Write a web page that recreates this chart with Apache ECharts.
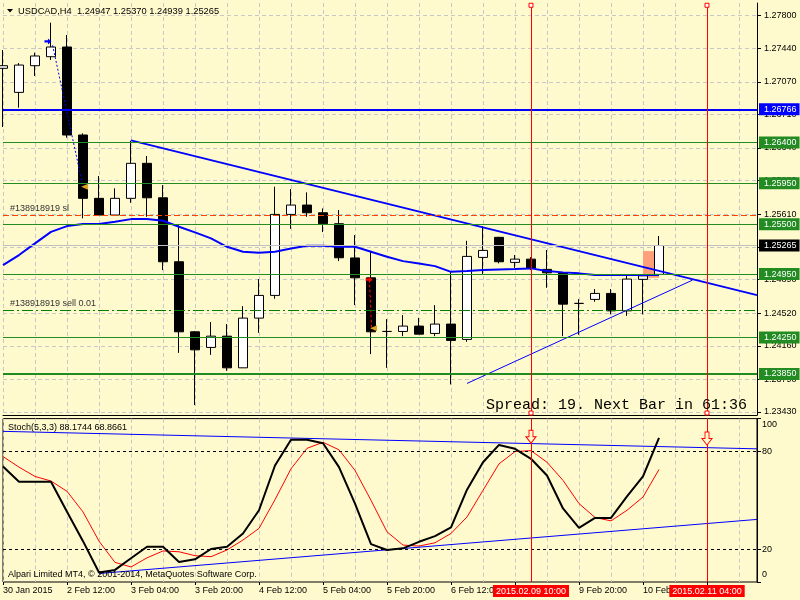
<!DOCTYPE html>
<html>
<head>
<meta charset="utf-8">
<script src="https://cdn.jsdelivr.net/npm/echarts@6/dist/echarts.min.js"></script>
<style>
html,body{margin:0;padding:0;background:#FFFACD;}
#c{width:800px;height:600px;}
</style>
</head>
<body>
<div id="c"></div>
<script>
// ---------------- DATA ----------------
const symbolName = 'USDCAD,H4';
const opens  = [1.27218,1.26953,1.27247,1.27346,1.27453,1.26483,1.25785,1.25601,1.25785,1.26171,1.25791,1.25086,1.24314,1.24142,1.24266,1.23917,1.24465,1.24715,1.25608,1.25711,1.25626,1.25505,1.25128,1.24909,1.24318,1.24318,1.24377,1.24296,1.24399,1.24230,1.25134,1.25355,1.25079,1.25115,1.25002,1.24964,1.24627,1.24671,1.24737,1.24545,1.24892,1.24947];
const highs  = [1.27420,1.27276,1.27390,1.27721,1.27585,1.26501,1.26031,1.25895,1.26420,1.26251,1.25931,1.25490,1.24322,1.24421,1.24399,1.24597,1.24895,1.25913,1.25887,1.25851,1.25674,1.25656,1.25380,1.25196,1.24454,1.24498,1.24468,1.24608,1.24972,1.25317,1.25479,1.25361,1.25160,1.25137,1.25215,1.24972,1.24674,1.24785,1.24785,1.24931,1.24931,1.25370];
const lows   = [1.26571,1.26784,1.27133,1.27310,1.26453,1.25564,1.25601,1.25601,1.25736,1.25582,1.24994,1.24082,1.23506,1.24060,1.23884,1.23917,1.24303,1.24678,1.25449,1.25582,1.25413,1.25093,1.24608,1.24068,1.23917,1.24266,1.24288,1.24266,1.23734,1.24204,1.24950,1.25068,1.25019,1.24994,1.24799,1.24266,1.24281,1.24645,1.24506,1.24490,1.24506,1.24939];
const closes = [1.27247,1.27254,1.27354,1.27453,1.26483,1.25785,1.25601,1.25785,1.26171,1.25791,1.25086,1.24314,1.24115,1.24266,1.23917,1.24465,1.24715,1.25608,1.25711,1.25626,1.25505,1.25130,1.24909,1.24314,1.24318,1.24377,1.24288,1.24399,1.24219,1.25145,1.25211,1.25086,1.25115,1.25013,1.24964,1.24619,1.24627,1.24737,1.24545,1.24895,1.24931,1.25265];
const maValues = [1.25049,1.25160,1.25289,1.25416,1.25479,1.25501,1.25501,1.25527,1.25556,1.25556,1.25538,1.25472,1.25410,1.25344,1.25251,1.25196,1.25185,1.25196,1.25233,1.25262,1.25262,1.25251,1.25251,1.25196,1.25141,1.25093,1.25068,1.25038,1.24975,1.24983,1.24994,1.25002,1.25005,1.25013,1.24983,1.24969,1.24958,1.24939,1.24939,1.24939,1.24939,1.24939];
const stochK = [70.7,61.4,61.4,61.4,43,25,5.8,7.4,14.5,21.6,21.6,12.3,13.9,20.2,21.6,29.7,43.9,71.3,87,87,84.9,70.3,48,23.2,19.6,20.6,24.6,28.1,33.4,56.5,73.3,83.9,81.5,75.4,65.2,45,33.1,39.2,39.2,52.4,64.6,88.17];
const stochD = [76.8,70.3,64.6,61.8,55.5,42.9,25,12,9.2,14.8,19,18.5,16.1,15.5,19.6,25.7,32.8,50.4,69.3,81.8,85.5,80.9,68.3,50,30.7,22.6,22,24,29.7,39.8,56.1,72.3,79.8,80.4,73.3,62.2,48,39.5,37.4,43.9,52,68.87];

const blueLevels = [1.26766];
const greenLevels = [1.26400, 1.25950, 1.25500, 1.24950, 1.24250];
const strongLevels = [1.23850];
const bidPrice = 1.25265;
const slPrice = 1.25601;
const orderPrice = 1.24553;
const slLabel = '#138918919 sl';
const orderLabel = '#138918919 sell 0.01';

const mainTrend = [[8, 1.26424], [47.125, 1.24718]];
const supportTrend = [[29, 1.23745], [43.1, 1.24884]];
const stochUpper = [[0, 92.2], [47.125, 81.5]];
const stochLower = [[6, 5.2], [47.125, 38.3]];

const tradePathA = [[3.1, 1.27472], [5.0, 1.25912]];
const tradePathB = [[22.9, 1.24889], [23.04, 1.24352]];
const tradeOpenA = [[2.81, 1.27515]];
const tradeOpenB = [[22.88, 1.24889]];
const tradeCloses = [[5.1, 1.25912], [23.16, 1.24352]];
const highlightBox = [40, 1.25204, 41, 1.24909];

const markerBars = [33, 44];
const markerLabels = ['2015.02.09 10:00', '2015.02.11 04:00'];
const handlePoints = [[33, 1.27913], [33, 1.23419], [44, 1.27913], [44, 1.23419]];
const alertArrows = [[33, 88.9], [44, 87.8]];

const timeTickBars = [0,4,8,12,16,20,24,28,32,36,40,44];
const timeLabelBars = [0,4,8,12,16,20,24,28,36,40];
const timeTickLabels = ['30 Jan 2015','2 Feb 12:00','3 Feb 04:00','3 Feb 20:00','4 Feb 12:00','5 Feb 04:00','5 Feb 20:00','6 Feb 12:00','9 Feb 04:00','9 Feb 20:00','10 Feb 12:00','11 Feb 04:00'];
const priceTicks = [1.2343,1.2379,1.2416,1.2452,1.2489,1.2525,1.2561,1.2598,1.2634,1.2671,1.2707,1.2744,1.2780];
const stochTicks = [0, 20, 80, 100];
const stochLevels = [80, 20];

const priceMin = 1.23397, priceMax = 1.27938;
const barMax = 47.125;

// ---------------- CHART ----------------
const FONT = 'Liberation Sans';
const GRID_COLOR = '#c8c8c8';
const GREEN = '#228b22';
const ARROW_R = 'path://M0,3L5,3L5,0L10,5L5,10L5,7L0,7Z';
const ARROW_D = 'path://M3,0L7,0L7,6L10,6L5,12L0,6L3,6Z';

const candleData = opens.map((o, i) => [i, o, closes[i], lows[i], highs[i]]);
const indexed = arr => arr.map((v, i) => [i, v]);

function boxLabel(bg) {
  return {show: true, position: 'end', distance: 2, formatter: p => Number(p.value).toFixed(5),
    color: '#fff', backgroundColor: bg, padding: [2, 3, 1, 5], fontSize: 9, lineHeight: 9, fontFamily: FONT};
}
function textLabel(txt) {
  return {show: true, position: 'insideStartTop', distance: [7, 2], formatter: txt,
    color: '#333', fontSize: 9, fontFamily: FONT};
}
const redV = b => ({xAxis: b, lineStyle: {color: '#ff0000', width: 1, type: 'solid'}, label: {show: false}});

const mainLines = [].concat(
  blueLevels.map(v => ({yAxis: v, lineStyle: {color: '#0000ff', width: 2, type: 'solid'}, label: boxLabel('#0000ff')})),
  greenLevels.map(v => ({yAxis: v, lineStyle: {color: GREEN, width: 1, type: 'solid'}, label: boxLabel(GREEN)})),
  strongLevels.map(v => ({yAxis: v, lineStyle: {color: GREEN, width: 2, type: 'solid'}, label: boxLabel(GREEN)})),
  [{yAxis: bidPrice, lineStyle: {color: '#c0c0c0', width: 1, type: 'solid'}, label: boxLabel('#000000')}],
  [{yAxis: slPrice, lineStyle: {color: '#ff4500', width: 1, type: [6, 3]}, label: textLabel(slLabel)}],
  [{yAxis: orderPrice, lineStyle: {color: '#008000', width: 1, type: [11, 3, 2, 3]}, label: textLabel(orderLabel)}],
  markerBars.map(redV)
);

const stochLines = [].concat(
  stochLevels.map(v => ({yAxis: v, lineStyle: {color: '#000', width: 1, type: [3, 3]}, label: {show: false}})),
  markerBars.map(redV)
);

const axisFont = {fontSize: 9, color: '#000', fontFamily: FONT};

const option = {
  backgroundColor: '#FFFACD',
  animation: false,
  textStyle: {fontFamily: FONT},
  grid: [
    {left: 3, top: 3, width: 754, height: 412, show: false},
    {left: 3, top: 418.6, width: 754, height: 163.4, show: true, borderColor: '#000', borderWidth: 1, backgroundColor: 'transparent'}
  ],
  xAxis: [
    {gridIndex: 0, type: 'value', position: 'bottom', min: 0, max: barMax, interval: 2,
     axisLine: {show: true, onZero: false, lineStyle: {color: '#000'}}, axisTick: {show: false}, axisLabel: {show: false},
     splitLine: {show: true, lineStyle: {color: GRID_COLOR, type: [4, 3]}}},
    {gridIndex: 1, type: 'value', position: 'bottom', min: 0, max: barMax, interval: 2,
     axisLine: {show: false, onZero: false}, axisTick: {show: false}, axisLabel: {show: false},
     splitLine: {show: true, lineStyle: {color: GRID_COLOR, type: [4, 3]}}},
    {gridIndex: 1, type: 'value', position: 'bottom', min: 0, max: barMax,
     axisLine: {show: false, onZero: false},
     axisTick: {show: true, customValues: timeTickBars, length: 3, lineStyle: {color: '#000'}},
     axisLabel: Object.assign({show: true, customValues: timeLabelBars, align: 'left', margin: 4,
       formatter: v => timeTickLabels[timeTickBars.indexOf(v)]}, axisFont),
     splitLine: {show: false}},
    {gridIndex: 1, type: 'value', position: 'bottom', min: 0, max: barMax,
     axisLine: {show: false, onZero: false}, axisTick: {show: false},
     axisLabel: {show: true, customValues: markerBars, align: 'center', margin: 3,
       formatter: v => markerLabels[markerBars.indexOf(v)],
       fontSize: 9, fontFamily: FONT, color: '#fff', backgroundColor: '#ff0000', padding: [2, 3, 1, 3], lineHeight: 9},
     splitLine: {show: false}}
  ],
  yAxis: [
    {gridIndex: 0, type: 'value', position: 'right', min: priceMin, max: priceMax,
     axisLine: {show: true, onZero: false, lineStyle: {color: '#000'}},
     axisTick: {show: true, customValues: priceTicks, length: 4, lineStyle: {color: '#000'}},
     axisLabel: Object.assign({show: true, customValues: priceTicks, margin: 7, formatter: v => v.toFixed(5)}, axisFont),
     splitLine: {show: true, lineStyle: {color: GRID_COLOR, type: [4, 3]}}},
    {gridIndex: 1, type: 'value', position: 'right', min: 0, max: 100,
     axisLine: {show: true, onZero: false, lineStyle: {color: '#000'}},
     axisTick: {show: true, customValues: stochTicks, length: 4, lineStyle: {color: '#000'}},
     axisLabel: Object.assign({show: true, customValues: stochTicks, margin: 5,
       formatter: v => v === 100 ? '{t|100}' : (v === 0 ? '{b|0}' : String(v)),
       rich: {t: {padding: [11, 0, 0, 0], fontSize: 9, fontFamily: FONT}, b: {padding: [0, 0, 14, 0], fontSize: 9, fontFamily: FONT}}}, axisFont),
     splitLine: {show: false}}
  ],
  series: [
    {name: 'candles', type: 'candlestick', xAxisIndex: 0, yAxisIndex: 0, data: candleData,
     encode: {x: 0, y: [1, 2, 3, 4]}, barWidth: 10, z: 2,
     itemStyle: {color: '#ffffff', color0: '#000000', borderColor: '#000000', borderColor0: '#000000', borderWidth: 1},
     markArea: {silent: true, itemStyle: {color: '#FFA07A'},
       data: [[{xAxis: highlightBox[0], yAxis: highlightBox[1]}, {xAxis: highlightBox[2], yAxis: highlightBox[3]}]]}},
    {name: 'MA', type: 'line', xAxisIndex: 0, yAxisIndex: 0, data: indexed(maValues), symbol: 'none',
     lineStyle: {color: '#0000ff', width: 2}, z: 3,
     markLine: {silent: true, precision: 5, symbol: ['none', 'none'], animation: false, data: mainLines}},
    {name: 'trend', type: 'line', xAxisIndex: 0, yAxisIndex: 0, data: mainTrend, symbol: 'none',
     lineStyle: {color: '#0000ff', width: 2}, z: 4},
    {name: 'support', type: 'line', xAxisIndex: 0, yAxisIndex: 0, data: supportTrend, symbol: 'none',
     lineStyle: {color: '#0000ff', width: 1}, z: 4},
    {name: 'tradeA', type: 'line', xAxisIndex: 0, yAxisIndex: 0, data: tradePathA, symbol: 'none',
     lineStyle: {color: '#0000ff', width: 1, type: [2, 2]}, z: 4},
    {name: 'tradeB', type: 'line', xAxisIndex: 0, yAxisIndex: 0, data: tradePathB, symbol: 'none',
     lineStyle: {color: '#ff0000', width: 1, type: [3, 2]}, z: 4},
    {name: 'openA', type: 'scatter', xAxisIndex: 0, yAxisIndex: 0, data: tradeOpenA, symbol: ARROW_R,
     symbolSize: [7, 6], itemStyle: {color: '#0000ff', opacity: 1}, z: 5},
    {name: 'openB', type: 'scatter', xAxisIndex: 0, yAxisIndex: 0, data: tradeOpenB, symbol: ARROW_R,
     symbolSize: [7, 6], itemStyle: {color: '#ff0000', opacity: 1}, z: 5},
    {name: 'closes', type: 'scatter', xAxisIndex: 0, yAxisIndex: 0, data: tradeCloses, symbol: 'triangle',
     symbolRotate: 90, symbolSize: [6, 7], itemStyle: {color: '#daa520', opacity: 1}, z: 5},
    {name: 'handles', type: 'scatter', xAxisIndex: 0, yAxisIndex: 0, data: handlePoints, symbol: 'rect',
     symbolSize: 4, itemStyle: {color: '#ffffff', borderColor: '#ff0000', borderWidth: 1, opacity: 1}, z: 6},
    {name: '%K', type: 'line', xAxisIndex: 1, yAxisIndex: 1, data: indexed(stochK), symbol: 'none',
     lineStyle: {color: '#000000', width: 2}, z: 4,
     markLine: {silent: true, precision: 2, symbol: ['none', 'none'], animation: false, data: stochLines}},
    {name: '%D', type: 'line', xAxisIndex: 1, yAxisIndex: 1, data: indexed(stochD), symbol: 'none',
     lineStyle: {color: '#ff0000', width: 1}, z: 3},
    {name: 'stochUpper', type: 'line', xAxisIndex: 1, yAxisIndex: 1, data: stochUpper, symbol: 'none',
     lineStyle: {color: '#0000ff', width: 1}, z: 3},
    {name: 'stochLower', type: 'line', xAxisIndex: 1, yAxisIndex: 1, data: stochLower, symbol: 'none',
     lineStyle: {color: '#0000ff', width: 1}, z: 3},
    {name: 'alerts', type: 'scatter', xAxisIndex: 1, yAxisIndex: 1, data: alertArrows, symbol: ARROW_D,
     symbolSize: [10, 13], itemStyle: {color: '#FFFACD', borderColor: '#ff0000', borderWidth: 1, opacity: 1}, z: 6}
  ],
  graphic: [
    {type: 'polygon', shape: {points: [[7, 9], [13, 9], [10, 12.5]]}, style: {fill: '#000'}, z: 10},
    {type: 'text', x: 18, y: 11, z: 10, style: {
      text: symbolName + '  ' + [opens, highs, lows, closes].map(a => a[a.length - 1].toFixed(5)).join(' '),
      font: '9.3px "Liberation Sans"', fill: '#000', verticalAlign: 'middle'}},
    {type: 'text', x: 8, y: 427.5, z: 10, style: {text: 'Stoch(5,3,3) 88.1744 68.8661',
      font: '9px "Liberation Sans"', fill: '#000', verticalAlign: 'middle'}},
    {type: 'text', x: 8, y: 574.5, z: 10, style: {text: 'Alpari Limited MT4, \u00a9 2001-2014, MetaQuotes Software Corp.',
      font: '9px "Liberation Sans"', fill: '#000', verticalAlign: 'middle'}},
    {type: 'text', x: 486, y: 405, z: 10, style: {text: 'Spread: 19. Next Bar in 61:36',
      font: '15px "Liberation Mono"', fill: '#000', verticalAlign: 'middle'}}
  ]
};

const chart = echarts.init(document.getElementById('c'), null, {renderer: 'canvas', width: 800, height: 600});
chart.setOption(option);
</script>
</body>
</html>
